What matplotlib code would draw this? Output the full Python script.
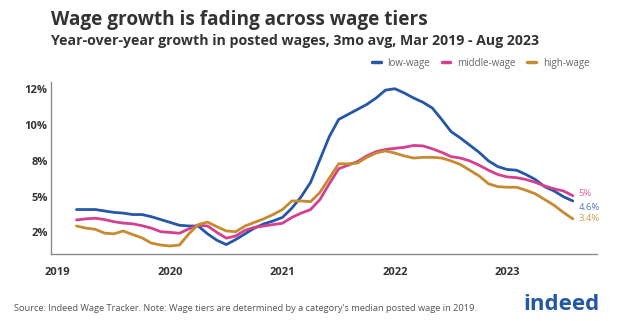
import matplotlib.pyplot as plt
import numpy as np

# Monthly data, Mar 2019 - Aug 2023 (YoY growth in posted wages, %)
low_wage = [4.1, 4.1, 4.1, 4.0, 3.9, 3.85, 3.75, 3.75, 3.6, 3.4, 3.2, 3.0,
            2.95, 2.95, 2.4, 1.95, 1.65, 2.0, 2.4, 2.8, 3.1, 3.3, 3.55, 4.2,
            5.0, 6.0, 7.6, 9.2, 10.4, 10.75, 11.1, 11.45, 11.9, 12.45, 12.55, 12.25,
            11.9, 11.6, 11.2, 10.4, 9.55, 9.1, 8.6, 8.1, 7.5, 7.1, 6.9, 6.85,
            6.55, 6.2, 5.7, 5.4, 5.0, 4.7]
middle_wage = [3.37, 3.45, 3.49, 3.4, 3.25, 3.15, 3.1, 2.97, 2.8, 2.55, 2.5, 2.44,
               2.75, 3.0, 2.95, 2.5, 2.1, 2.25, 2.65, 2.85, 2.95, 3.05, 3.14, 3.55,
               3.85, 4.1, 4.8, 5.9, 6.95, 7.2, 7.45, 7.85, 8.15, 8.3, 8.38, 8.45,
               8.58, 8.55, 8.35, 8.1, 7.8, 7.7, 7.5, 7.2, 6.85, 6.55, 6.38, 6.33,
               6.2, 6.0, 5.75, 5.55, 5.4, 5.07]
high_wage = [2.95, 2.8, 2.72, 2.45, 2.4, 2.6, 2.35, 2.12, 1.75, 1.62, 1.55, 1.62,
             2.4, 3.05, 3.22, 2.9, 2.6, 2.55, 2.95, 3.2, 3.45, 3.75, 4.1, 4.7,
             4.7, 4.65, 5.3, 6.3, 7.3, 7.3, 7.35, 7.75, 8.05, 8.2, 8.05, 7.85,
             7.7, 7.75, 7.75, 7.7, 7.5, 7.25, 6.85, 6.45, 5.9, 5.7, 5.66, 5.66,
             5.45, 5.2, 4.8, 4.4, 3.9, 3.45]

end_labels = ['4.6%', '5%', '3.4%']
series_names = ['low-wage', 'middle-wage', 'high-wage']
colors = ['#2557a7', '#d4408e', '#c68a30']
label_colors = ['#4f78bd', '#e0639f', '#cf9b4f']

year_ticks = [2019, 2020, 2021, 2022, 2023]
y_ticks = [2.5, 5, 7.5, 10, 12.5]
y_tick_labels = ['2%', '5%', '8%', '10%', '12%']

# x as fractional year, first point = March 2019
months = np.arange(len(low_wage))
x = 2019 + (months + 2) / 12

plt.rcParams['font.family'] = ['Open Sans', 'DejaVu Sans']

fig = plt.figure(figsize=(6.4, 3.21), dpi=100)
ax = fig.add_axes([0.0797, 0.2078, 0.8533, 0.5377])

series = [low_wage, middle_wage, high_wage]
for vals, name, c in zip(series, series_names, colors):
    ax.plot(x, vals, color=c, linewidth=2.0, label=name, solid_capstyle='round')

# end labels
offsets = [-4.5, 1.5, 0]
for vals, lab, c, dy in zip(series, end_labels, label_colors, offsets):
    ax.annotate(lab, xy=(x[-1], vals[-1]), xytext=(4, dy), textcoords='offset points',
                color=c, fontsize=6.8, va='center', ha='left')

ax.set_xlim(2018.94, 2023.8)
ax.set_ylim(0.97, 13.04)
ax.set_xticks(year_ticks)
ax.set_xticklabels([str(y) for y in year_ticks])
ax.set_yticks(y_ticks)
ax.set_yticklabels(y_tick_labels)
ax.tick_params(length=0, labelsize=8, labelcolor='#333333', pad=2.5)
for lbl in ax.get_xticklabels() + ax.get_yticklabels():
    lbl.set_fontweight('bold')
ax.tick_params(axis='x', pad=9)

for s in ['top', 'right']:
    ax.spines[s].set_visible(False)
for s in ['left', 'bottom']:
    ax.spines[s].set_color('#8c8c8c')
    ax.spines[s].set_linewidth(1.0)

# legend
leg = fig.legend(loc='center right', bbox_to_anchor=(0.935, 0.803), ncol=3, frameon=False,
                 fontsize=7, handlelength=0.9, handletextpad=0.7, columnspacing=1.2,
                 labelcolor='#666666')
for h in leg.get_lines():
    h.set_linewidth(2.5)

fig.text(0.08, 0.922, 'Wage growth is fading across wage tiers', fontsize=13.7,
         fontweight='bold', color='#333333', ha='left', va='baseline')
fig.text(0.08, 0.86, 'Year-over-year growth in posted wages, 3mo avg, Mar 2019 - Aug 2023',
         fontsize=10.2, fontweight='bold', color='#333333', ha='left', va='baseline')
fig.text(0.022, 0.04, "Source: Indeed Wage Tracker. Note: Wage tiers are determined by a "
         "category's median posted wage in 2019.", fontsize=6.7, color='#555555',
         ha='left', va='center')
fig.text(0.818, 0.05, 'indeed', fontsize=16, fontweight='bold', color='#2557a7',
         ha='left', va='center')

fig.savefig('out.png', dpi=100)
